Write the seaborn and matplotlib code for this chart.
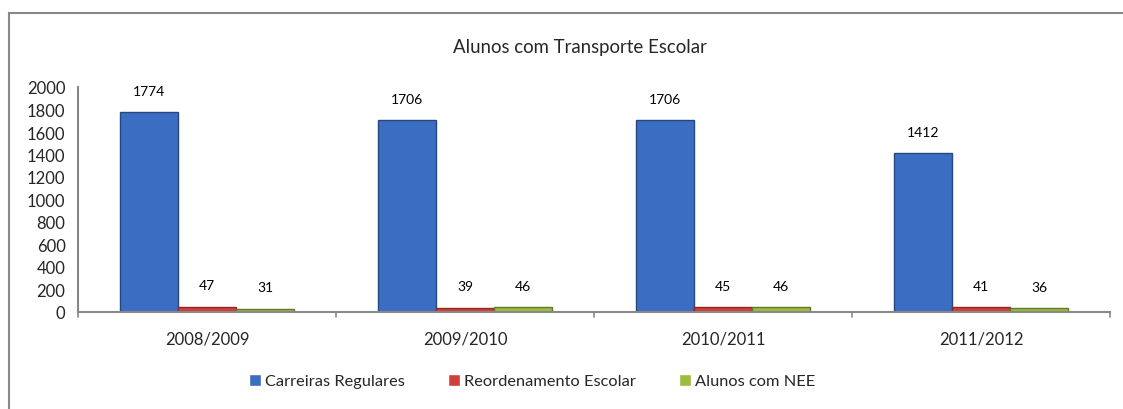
import matplotlib
matplotlib.use("Agg")
import matplotlib.pyplot as plt
import seaborn as sns
import pandas as pd
from matplotlib.patches import Rectangle

years = ["2008/2009", "2009/2010", "2010/2011", "2011/2012"]
series = ["Carreiras Regulares", "Reordenamento Escolar", "Alunos com NEE"]
carreiras = [1774, 1706, 1706, 1412]
reordenamento = [47, 39, 45, 41]
nee = [31, 46, 46, 36]
yticks = [0, 200, 400, 600, 800, 1000, 1200, 1400, 1600, 1800, 2000]
title = "Alunos com Transporte Escolar"

colors = ["#3B6EC2", "#D23F3A", "#9CBC3C"]
edges = ["#27477F", "#8E2824", "#62782A"]

rows = []
for name, vals in zip(series, [carreiras, reordenamento, nee]):
    for y, v in zip(years, vals):
        rows.append({"Ano": y, "Série": name, "Valor": v})
df = pd.DataFrame(rows)

sns.set_style("white")
plt.rcParams["font.family"] = ["Lato", "DejaVu Sans"]

fig = plt.figure(figsize=(11.23, 4.10), dpi=100)
ax = fig.add_axes([78/1123, 97/410, (1110-78)/1123, 225/410])

sns.barplot(data=df, x="Ano", y="Valor", hue="Série", palette=colors,
            width=0.675, gap=0, ax=ax, legend=True, saturation=1)

for cont, ec in zip(ax.containers, edges):
    for p in cont:
        p.set_edgecolor(ec)
        p.set_linewidth(1.0)
    ax.bar_label(cont, padding=11, fontsize=10, color="#000000")

ax.set_ylim(0, 2000)
ax.set_xlim(-0.5, 3.5)
ax.set_yticks(yticks)
ax.set_yticklabels([str(t) for t in yticks], fontsize=12)
ax.set_xticks(range(len(years)))
ax.set_xticklabels(years, fontsize=12)
ax.tick_params(axis="x", length=0, pad=13)
ax.tick_params(axis="y", length=5, width=1, color="#888888", pad=4, direction="out")
for b in [-0.5, 0.5, 1.5, 2.5, 3.5]:
    ax.plot([b, b], [0, -0.022], transform=ax.get_xaxis_transform(), color="#888888",
            lw=1.2, clip_on=False)
ax.set_xlabel("")
ax.set_ylabel("")
for s in ["top", "right"]:
    ax.spines[s].set_visible(False)
for s in ["left", "bottom"]:
    ax.spines[s].set_color("#888888")
    ax.spines[s].set_linewidth(1.5)

leg = ax.get_legend()
handles = leg.legend_handles
ax.legend_.remove()
fig.legend(handles, series, loc="center", bbox_to_anchor=(532/1123, 1-382/410),
           ncol=3, frameon=False, fontsize=11.8, handlelength=0.75, handleheight=0.75,
           handletextpad=0.25, columnspacing=2.6)

fig.text(580/1123, 1-48/410, title, ha="center", va="center", fontsize=13.4)

fig.patches.append(Rectangle((9/1123, -0.5), 2, 0.5+1-14/410, transform=fig.transFigure,
                             fill=False, edgecolor="#888888", lw=1.5))

fig.savefig("out.png", dpi=100, facecolor="white")
